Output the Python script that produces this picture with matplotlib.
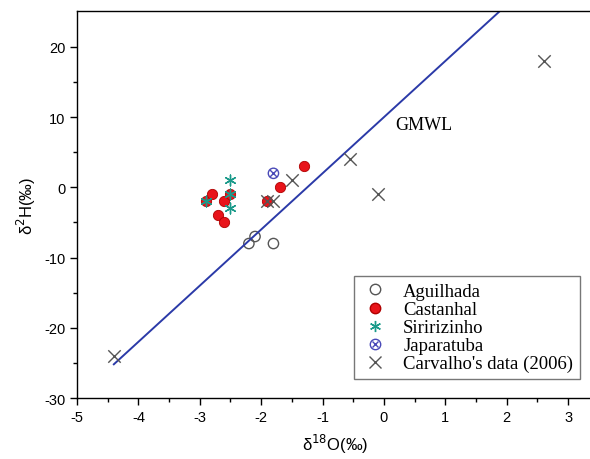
import numpy as np
import matplotlib.pyplot as plt
from matplotlib.lines import Line2D

# delta 18O / delta 2H values
aguilhada_x = [-2.1, -2.2, -1.8]
aguilhada_y = [-7, -8, -8]

castanhal_x = [-2.9, -2.8, -2.6, -2.5, -2.7, -2.6, -1.9, -1.7, -1.3]
castanhal_y = [-2, -1, -2, -1, -4, -5, -2, 0, 3]

siririzinho_x = [-2.5, -2.5, -2.5, -2.9]
siririzinho_y = [1, -1, -3, -2]

japaratuba_x = [-1.8]
japaratuba_y = [2]

carvalho_x = [-4.4, 2.6, -0.55, -0.1, -1.5, -1.8, -1.9]
carvalho_y = [-24, 18, 4, -1, 1, -2, -2]

gmwl_x = np.array([-4.4, 1.875])


def gmwl(x):
    return 8 * x + 10


plt.rcParams['font.family'] = ['Liberation Sans', 'DejaVu Sans']
plt.rcParams['axes.unicode_minus'] = False

fig = plt.figure(figsize=(5.9, 4.6), dpi=100)
ax = fig.add_axes([0.1305, 0.1326, 0.874, 0.841])

ax.scatter(aguilhada_x, aguilhada_y, s=55, facecolors='none',
           edgecolors='#555555', linewidths=1.0, zorder=2)
ax.plot(gmwl_x, gmwl(gmwl_x), color='#2b3aa8', lw=1.4, zorder=2.5)
ax.scatter(castanhal_x, castanhal_y, s=55, color='#e8141a',
           edgecolors='#b00000', linewidths=0.6, zorder=3)
ax.scatter(siririzinho_x, siririzinho_y, s=60, marker=(6, 2, 0),
           color='#1a9a8a', linewidths=1.0, zorder=4)
ax.scatter(japaratuba_x, japaratuba_y, s=55, facecolors='none',
           edgecolors='#4a4ab8', linewidths=1.0, zorder=4)
ax.scatter(japaratuba_x, japaratuba_y, s=25, marker='x',
           color='#4a4ab8', linewidths=1.0, zorder=4)
ax.scatter(carvalho_x, carvalho_y, s=80, marker='x',
           color='#555555', linewidths=1.0, zorder=5)

ax.text(0.18, 9, 'GMWL', family='Liberation Serif', fontsize=13,
        va='center', ha='left')

ax.set_xlim(-5, 3.4)
ax.set_ylim(-30, 25.1)
ax.set_xticks(np.arange(-5, 4, 1))
ax.set_xticks(np.arange(-5, 3.5, 0.5), minor=True)
ax.set_yticks(np.arange(-30, 30, 10))
ax.set_yticks(np.arange(-30, 25, 5), minor=True)
ax.tick_params(which='major', direction='out', length=5, width=1, labelsize=10.5)
ax.tick_params(which='minor', direction='out', length=3, width=1)
ax.spines['right'].set_visible(False)
for s in ['left', 'bottom', 'top']:
    ax.spines[s].set_linewidth(1.0)

ax.set_xlabel('\u03b4$^{18}$O(‰)', fontsize=12, labelpad=6)
ax.set_ylabel('\u03b4$^{2}$H(‰)', fontsize=12, labelpad=4)

handles = [
    Line2D([], [], ls='none', marker='o', ms=7.5, mfc='none', mec='#555555'),
    Line2D([], [], ls='none', marker='o', ms=7.5, mfc='#e8141a', mec='#b00000'),
    Line2D([], [], ls='none', marker=(6, 2, 0), ms=8, color='#1a9a8a'),
    (Line2D([], [], ls='none', marker='o', ms=7.5, mfc='none', mec='#4a4ab8'),
     Line2D([], [], ls='none', marker='x', ms=5, color='#4a4ab8')),
    Line2D([], [], ls='none', marker='x', ms=9, color='#555555'),
]
labels = ['Aguilhada', 'Castanhal', 'Siririzinho', 'Japaratuba',
          "Carvalho's data (2006)"]
leg = ax.legend(handles, labels, loc='lower right', bbox_to_anchor=(0.975, 0.049),
                prop={'family': 'Liberation Serif', 'size': 13.5},
                frameon=True, fancybox=False, edgecolor='#555555',
                handlelength=1.6, handletextpad=0.7, borderpad=0.35,
                labelspacing=0.05, borderaxespad=0)
leg.get_frame().set_linewidth(1.0)

fig.savefig('out.png', dpi=100)
